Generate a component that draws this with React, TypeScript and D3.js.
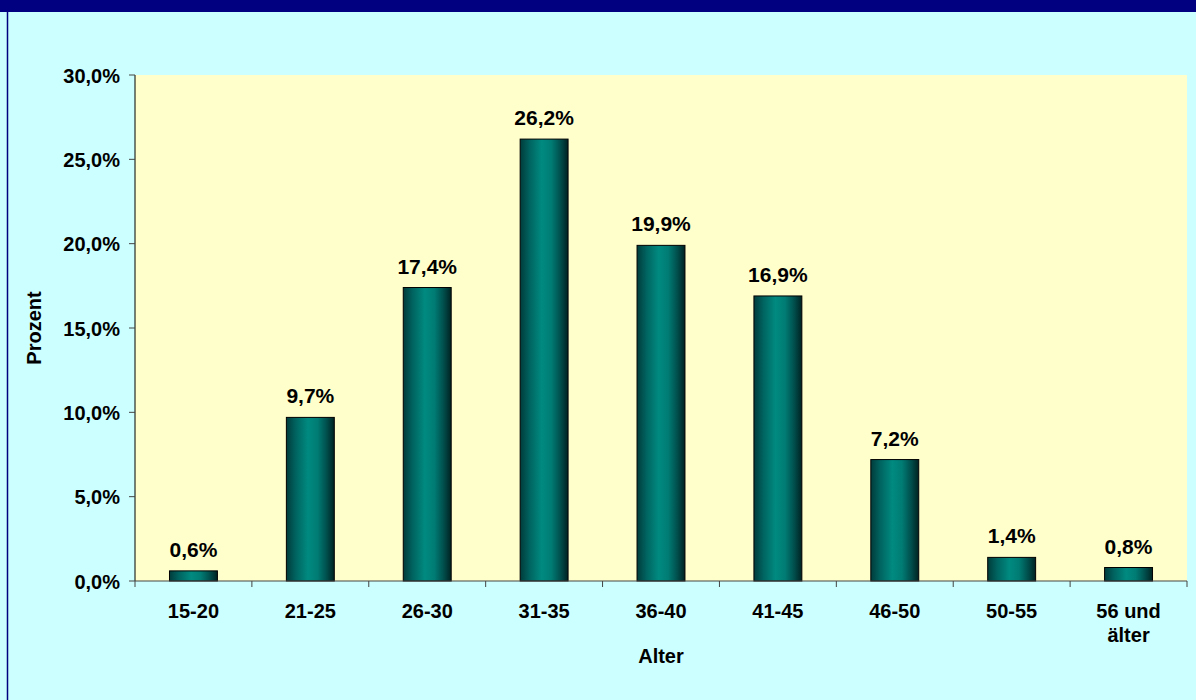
import React from "react";
import * as d3 from "d3";

const categories = ["15-20", "21-25", "26-30", "31-35", "36-40", "41-45", "46-50", "50-55", "56 und älter"];
const values = [0.6, 9.7, 17.4, 26.2, 19.9, 16.9, 7.2, 1.4, 0.8];
const yTicks = [0, 5, 10, 15, 20, 25, 30];
const xTitle = "Alter";
const yTitle = "Prozent";

const W = 1196;
const H = 700;
const plot = { left: 135, right: 1187, top: 75, bottom: 581 };
const font = "'Liberation Sans', Arial, sans-serif";
const fmt = (v: number) => v.toFixed(1).replace(".", ",") + "%";

export default function App() {
  const x = d3.scaleBand<string>().domain(categories).range([plot.left, plot.right]).paddingInner(0.59).paddingOuter(0.295);
  const xb = d3.scaleBand<string>().domain(categories).range([plot.left, plot.right]);
  const y = d3.scaleLinear().domain([0, 30]).range([plot.bottom, plot.top]);

  return (
    <svg width={W} height={H} style={{ position: "absolute", left: 0, top: 0, display: "block" }} fontFamily={font}>
      <defs>
        <linearGradient id="barGrad" x1="0" x2="1" y1="0" y2="0">
          <stop offset="0" stopColor="#003c3c" />
          <stop offset="0.2" stopColor="#006460" />
          <stop offset="0.45" stopColor="#008a80" />
          <stop offset="0.65" stopColor="#007c74" />
          <stop offset="0.85" stopColor="#004c4a" />
          <stop offset="1" stopColor="#002222" />
        </linearGradient>
      </defs>
      <rect x={0} y={0} width={W} height={H} fill="#ccffff" />
      <rect x={0} y={0} width={W} height={12} fill="#000080" />
      <line x1={7.5} x2={7.5} y1={12} y2={H} stroke="#000080" strokeWidth={1.5} />
      <rect x={plot.left} y={plot.top} width={plot.right - plot.left} height={plot.bottom - plot.top} fill="#ffffcc" />

      {categories.map((c, i) => (
        <g key={c}>
          <rect
            x={x(c)!}
            y={y(values[i])}
            width={x.bandwidth()}
            height={y(0) - y(values[i])}
            fill="url(#barGrad)"
            stroke="#000"
            strokeWidth={1}
          />
          <text x={x(c)! + x.bandwidth() / 2} y={y(values[i]) - 14} textAnchor="middle" fontSize={21} fontWeight="bold" fill="#000">
            {fmt(values[i])}
          </text>
        </g>
      ))}

      <line x1={plot.left} x2={plot.left} y1={plot.top} y2={plot.bottom} stroke="#000" strokeWidth={1} />
      <line x1={plot.left} x2={plot.right} y1={plot.bottom} y2={plot.bottom} stroke="#444" strokeWidth={1} />
      {yTicks.map((t) => (
        <g key={t}>
          <line x1={plot.left - 6} x2={plot.left} y1={y(t)} y2={y(t)} stroke="#444" strokeWidth={1} />
          <text x={120} y={y(t) + 7.5} textAnchor="end" fontSize={20} fontWeight="bold" fill="#000">
            {fmt(t)}
          </text>
        </g>
      ))}
      {categories.map((c) => (
        <line key={"t" + c} x1={xb(c)!} x2={xb(c)!} y1={plot.bottom} y2={plot.bottom + 6} stroke="#444" strokeWidth={1} />
      ))}
      <line x1={plot.right} x2={plot.right} y1={plot.bottom} y2={plot.bottom + 6} stroke="#444" strokeWidth={1} />
      {categories.map((c) => {
        const words = c === "56 und älter" ? ["56 und", "älter"] : [c];
        return (
          <text key={"l" + c} x={xb(c)! + xb.bandwidth() / 2} y={618} textAnchor="middle" fontSize={20} fontWeight="bold" fill="#000">
            {words.map((w, j) => (
              <tspan key={j} x={xb(c)! + xb.bandwidth() / 2} dy={j === 0 ? 0 : 24}>
                {w}
              </tspan>
            ))}
          </text>
        );
      })}
      <text x={(plot.left + plot.right) / 2} y={663} textAnchor="middle" fontSize={20} fontWeight="bold" fill="#000">
        {xTitle}
      </text>
      <text transform={`translate(41,${(plot.top + plot.bottom) / 2}) rotate(-90)`} textAnchor="middle" fontSize={20} fontWeight="bold" fill="#000">
        {yTitle}
      </text>
    </svg>
  );
}
